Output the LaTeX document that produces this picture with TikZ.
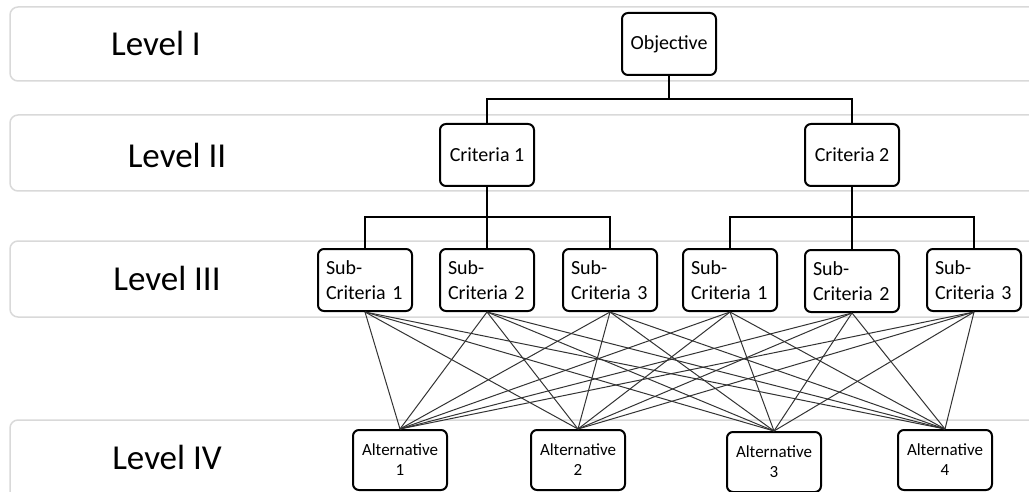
\documentclass[tikz,border=0pt]{standalone}
\usepackage{fontspec}
\setmainfont{Carlito}

\begin{document}
\begin{tikzpicture}[x=1pt,y=-1pt,
  band/.style={draw=black!15,line width=1.5pt,rounded corners=8pt},
  lvl/.style={font=\fontsize{35}{40}\selectfont},
  box/.style={draw,line width=2pt,rounded corners=6pt,fill=white,
    minimum width=94pt,minimum height=62pt,font=\fontsize{20}{25}\selectfont},
  sub/.style={box,text width=78pt,inner xsep=8pt,align=left},
  alt/.style={box,minimum height=60pt,align=center,font=\fontsize{17}{20}\selectfont},
  tree/.style={line width=2pt},
  link/.style={black!80,line width=1pt}]
  \clip (0,0) rectangle (1029,492);

  \draw[band] (10,7) rectangle (1045,81);
  \draw[band] (10,115) rectangle (1045,191);
  \draw[band] (10,241) rectangle (1045,317);
  \draw[band] (10,420) rectangle (1045,520);

  \node[lvl] (l1) at (156,43) {Level I};
  \node[lvl] (l2) at (177,155) {Level II};
  \node[lvl] (l3) at (167,278) {Level III};
  \node[lvl] (l4) at (167,457) {Level IV};

  \node[box] (obj) at (669,44) {Objective};
  \node[box] (c1) at (487,155) {Criteria 1};
  \node[box] (c2) at (852,155) {Criteria 2};

  \node[sub] (sa1) at (365,280) {Sub-\\Criteria 1};
  \node[sub] (sa2) at (487,280) {Sub-\\Criteria 2};
  \node[sub] (sa3) at (610,280) {Sub-\\Criteria 3};
  \node[sub] (sb1) at (730,280) {Sub-\\Criteria 1};
  \node[sub] (sb2) at (852,281) {Sub-\\Criteria 2};
  \node[sub] (sb3) at (974,280) {Sub-\\Criteria 3};

  \node[alt] (a1) at (400,460) {Alternative\\1};
  \node[alt] (a2) at (578,460) {Alternative\\2};
  \node[alt] (a3) at (774,462) {Alternative\\3};
  \node[alt] (a4) at (945,460) {Alternative\\4};

  \coordinate (j0) at (669,99);
  \coordinate (j1) at (487,217);
  \coordinate (j2) at (852,217);
  \draw[tree] (obj.south) -- (j0) -| (c1.north);
  \draw[tree] (j0) -| (c2.north);
  \draw[tree] (c1.south) -- (sa2.north);
  \draw[tree] (j1) -| (sa1.north);
  \draw[tree] (j1) -| (sa3.north);
  \draw[tree] (c2.south) -- (sb2.north);
  \draw[tree] (j2) -| (sb1.north);
  \draw[tree] (j2) -| (sb3.north);

  \foreach \s in {sa1,sa2,sa3,sb1,sb2,sb3}
    \foreach \a in {a1,a2,a3,a4}
      \draw[link] (\s.south) -- (\a.north);
\end{tikzpicture}
\end{document}
